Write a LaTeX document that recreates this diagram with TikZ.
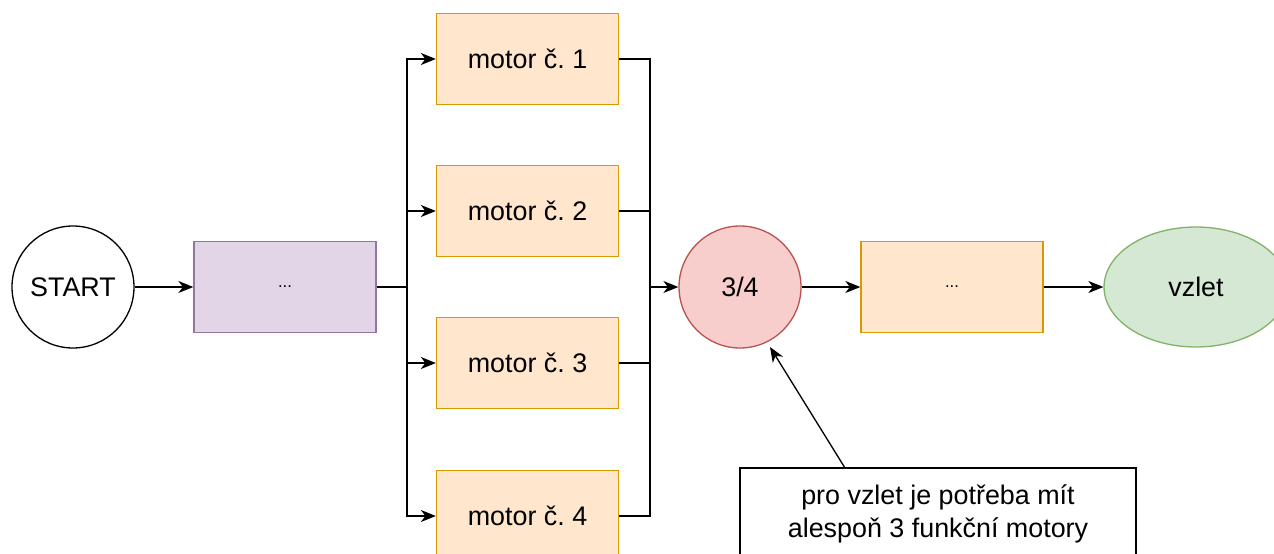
\documentclass[tikz,border=0pt]{standalone}
\usepackage{fontspec}
\setmainfont{Liberation Sans}
\usetikzlibrary{positioning,arrows.meta,shapes.geometric}
\frenchspacing

\definecolor{purplefill}{HTML}{E1D5E7}
\definecolor{purpleline}{HTML}{9673A6}
\definecolor{orangefill}{HTML}{FFE6CC}
\definecolor{orangeline}{HTML}{D79B00}
\definecolor{redfill}{HTML}{F8CECC}
\definecolor{redline}{HTML}{B85450}
\definecolor{greenfill}{HTML}{D5E8D4}
\definecolor{greenline}{HTML}{82B366}

\tikzset{
  base/.style={line width=0.75pt, font=\fontsize{15.3}{18.4}\selectfont},
  block/.style={base, rectangle, minimum width=3.64cm, minimum height=1.82cm},
  motorbox/.style={block, draw=orangeline, fill=orangefill},
  roundnode/.style={base, circle, minimum size=2.44cm, inner sep=0pt},
  flow/.style={line width=0.75pt, -{Stealth[length=0.3cm,width=0.24cm,inset=0.09cm]}},
  wire/.style={line width=0.75pt}
}

\begin{document}
\begin{tikzpicture}[x=0.02cm, y=-0.02cm]
  \useasboundingbox (0,0) rectangle (1274,554);
  \clip (0,0) rectangle (1274,554);

  % start and first block
  \node[roundnode, draw=black] (start) at (73,287) {START};
  \node[block, draw=purpleline, fill=purplefill] (pre) at (285,287) {\fontsize{9.5}{10}\selectfont ...};

  % the four motors side by side
  \foreach \i/\y in {1/59, 2/211, 3/363, 4/516} {
    \node[motorbox] (m\i) at (527.5,\y) {motor č. \i};
  }

  % vote, next block and the end
  \node[roundnode, draw=redline, fill=redfill] (vote) at (740,287) {3/4};
  \node[block, draw=orangeline, fill=orangefill] (post) at (952,287) {\fontsize{9.5}{10}\selectfont ...};
  \node[base, ellipse, draw=greenline, fill=greenfill, minimum width=3.68cm, minimum height=2.4cm] (vzlet) at (1196,287) {vzlet};

  % note below
  \node[base, rectangle, draw=black, fill=white, minimum width=7.92cm, minimum height=1.84cm,
        align=center, font=\fontsize{15.3}{18.8}\selectfont] (note) at (938,514)
        {pro vzlet je potřeba mít\\alespoň 3 funkční motory};
  \coordinate (tail) at (845,468);
  \coordinate (tip) at (770,347);

  % branch points
  \coordinate (split) at (407,287);
  \coordinate (join) at (650,287);

  \draw[flow] (start) -- (pre);
  \draw[wire] (pre) -- (split);
  \foreach \i in {1,...,4} {
    \draw[flow] (split) |- (m\i.west);
    \draw[wire] (m\i.east) -| (join);
  }
  \draw[flow] (join) -- (vote);
  \draw[flow] (vote) -- (post);
  \draw[flow] (post) -- (vzlet);
  \draw[flow] (tail) -- (tip);
\end{tikzpicture}
\end{document}
